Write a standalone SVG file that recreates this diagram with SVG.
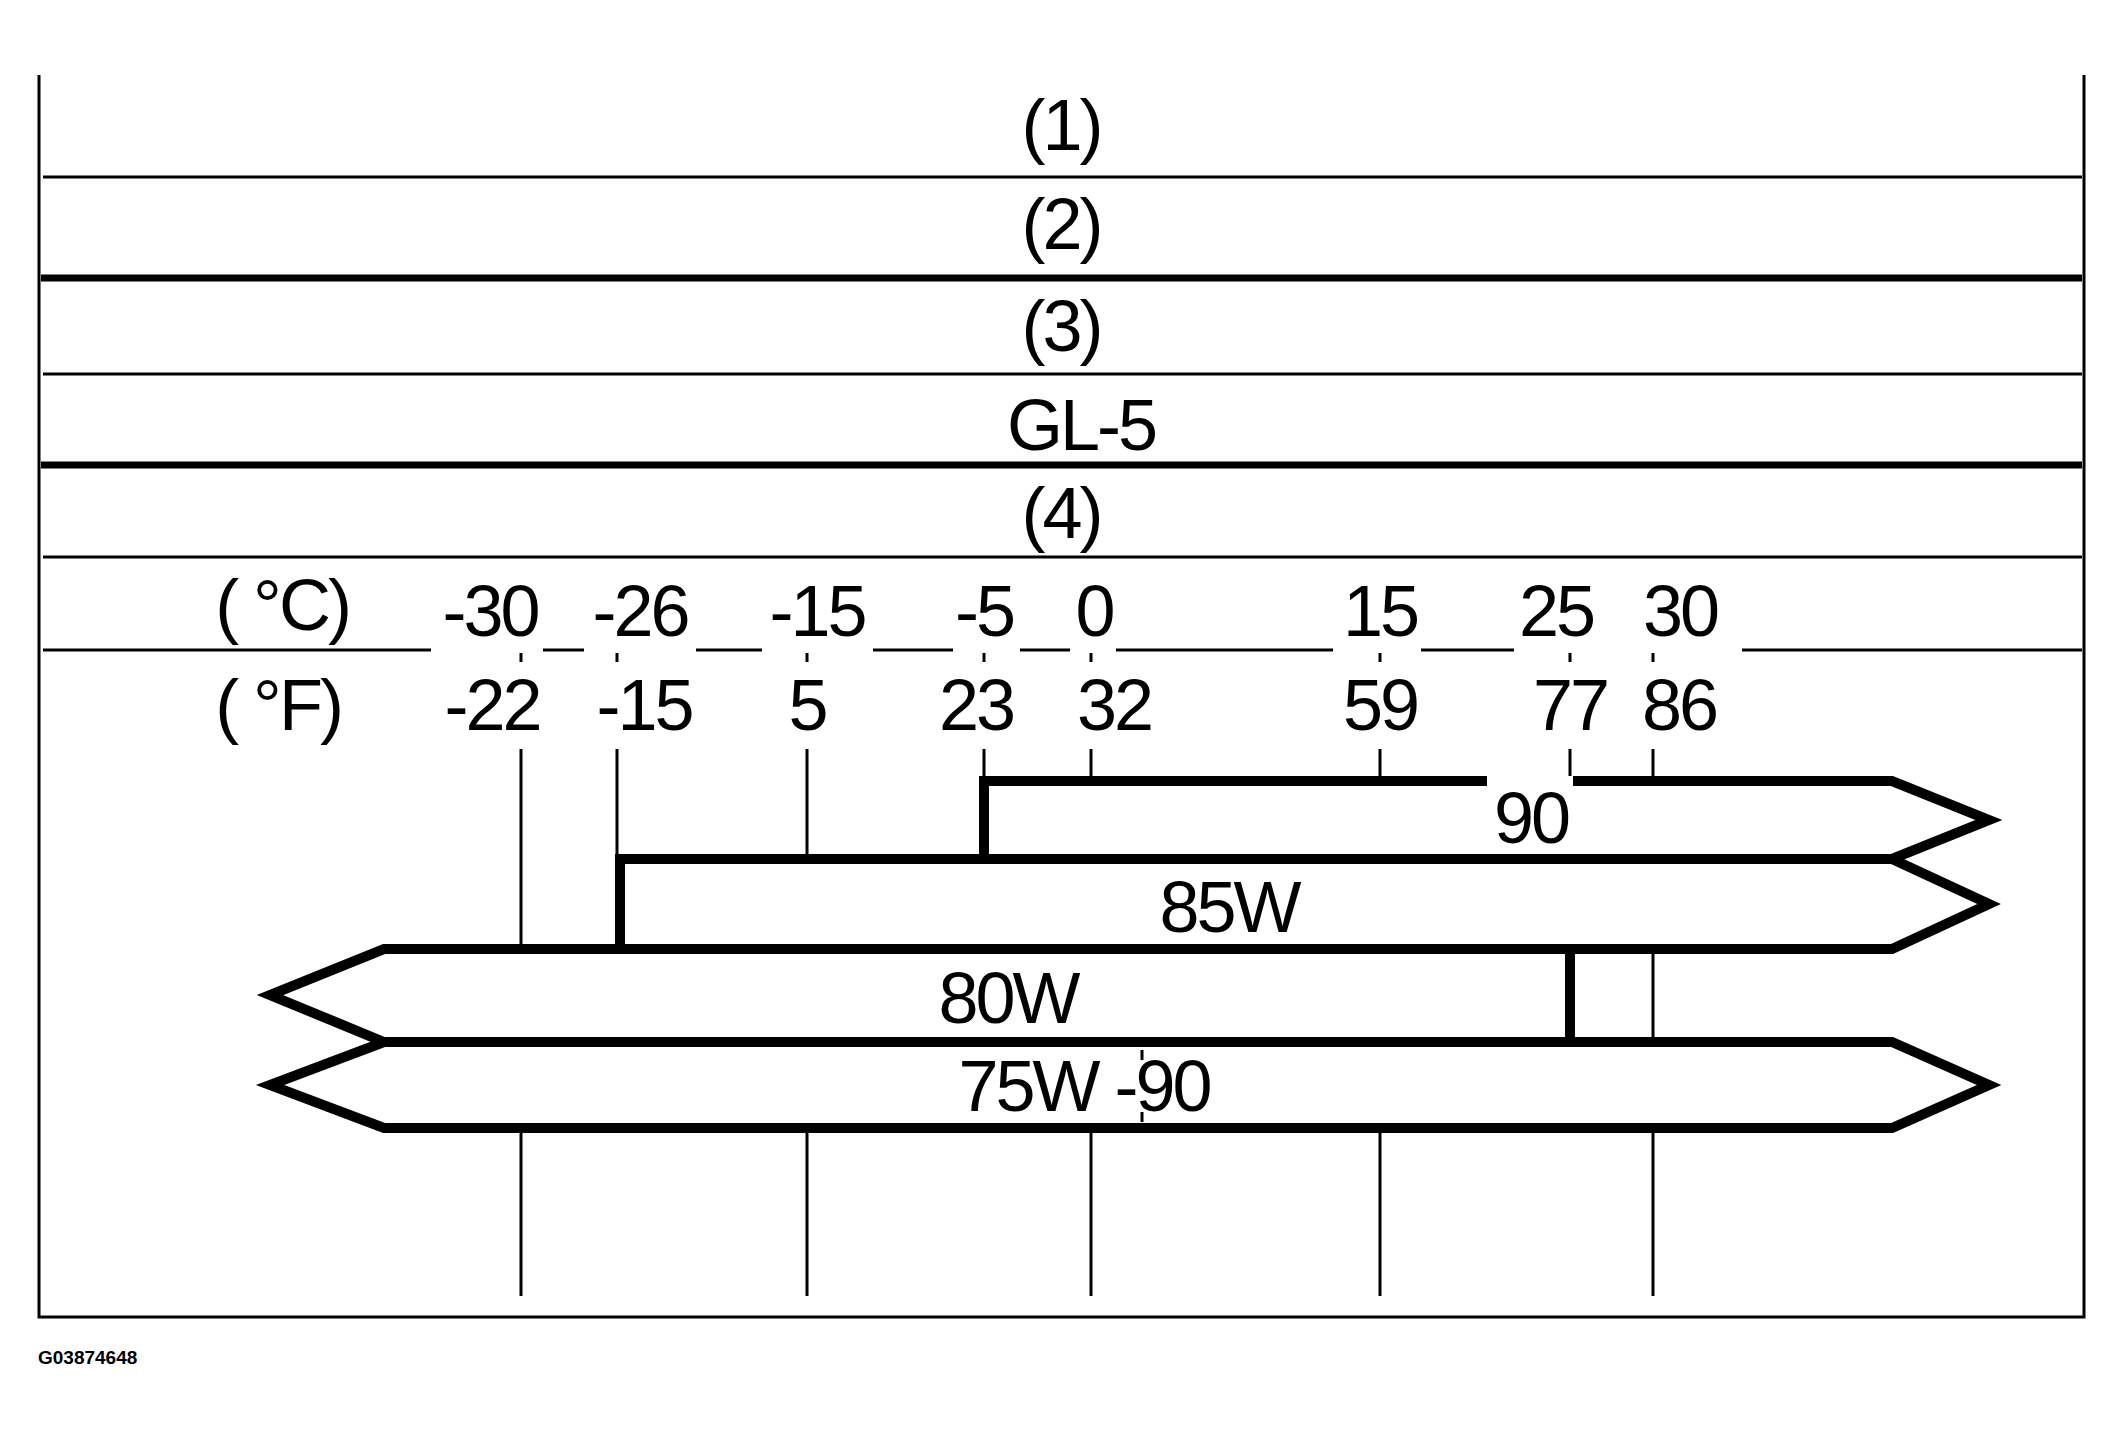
<svg xmlns="http://www.w3.org/2000/svg" width="2124" height="1441" viewBox="0 0 2124 1441">
<style>
.t{font-family:"Liberation Sans",Arial,sans-serif;font-size:72px;fill:#000;text-anchor:middle;letter-spacing:-3px}
.thin{stroke:#000;stroke-width:3;fill:none}
.thick{stroke:#000;stroke-width:7;fill:none}
.bar{stroke:#000;stroke-width:10;fill:#fff;stroke-linejoin:miter}
</style>
<rect width="2124" height="1441" fill="#fff"/>
<g id="frame">
<polyline class="thin" points="39,75 39,1317 2084,1317 2084,75"/>
<line class="thin" x1="43" y1="177" x2="2082" y2="177"/>
<line class="thick" x1="41" y1="278" x2="2082" y2="278"/>
<line class="thin" x1="43" y1="374" x2="2082" y2="374"/>
<line class="thick" x1="41" y1="465" x2="2082" y2="465"/>
<line class="thin" x1="43" y1="557" x2="2082" y2="557"/>
</g>
<g id="rows">
<text class="t" x="1061" y="150">(1)</text>
<text class="t" x="1061" y="249">(2)</text>
<text class="t" x="1061" y="351">(3)</text>
<text class="t" x="1081" y="450">GL-5</text>
<text class="t" x="1061" y="538">(4)</text>
</g>
<g id="scale">
<g class="thin" stroke-width="4">
<line x1="43" y1="650" x2="431" y2="650"/><line x1="543" y1="650" x2="584" y2="650"/>
<line x1="696" y1="650" x2="762" y2="650"/><line x1="873" y1="650" x2="953" y2="650"/>
<line x1="1020" y1="650" x2="1070" y2="650"/><line x1="1116" y1="650" x2="1333" y2="650"/>
<line x1="1421" y1="650" x2="1514" y2="650"/><line x1="1742" y1="650" x2="2082" y2="650"/>
<path d="M521 653v9M617 653v9M807 653v9M984 653v9M1091 653v9M1380 653v9M1570 653v9M1653 653v9"/>
</g>
<text class="t" x="282" y="630">( °C)</text>
<text class="t" x="278" y="730">( °F)</text>
<text class="t" x="490" y="636">-30</text><text class="t" x="640" y="636">-26</text>
<text class="t" x="817" y="636">-15</text><text class="t" x="984" y="636">-5</text>
<text class="t" x="1094" y="636">0</text><text class="t" x="1380" y="636">15</text>
<text class="t" x="1556" y="636">25</text><text class="t" x="1680" y="636">30</text>
<text class="t" x="492" y="730">-22</text><text class="t" x="644" y="730">-15</text>
<text class="t" x="807" y="730">5</text><text class="t" x="976" y="730">23</text>
<text class="t" x="1114" y="730">32</text><text class="t" x="1380" y="730">59</text>
<text class="t" x="1570" y="730">77</text><text class="t" x="1679" y="730">86</text>
</g>
<g id="connectors" class="thin">
<path d="M521 749V949M617 749V859M807 749V859M984 749V781M1091 749V781M1380 749V781M1570 749V781M1653 749V781"/>
<path d="M521 1128V1296M807 1128V1296M1091 1128V1296M1380 1128V1296M1653 1128V1296"/>
</g>
<g id="bar-90">
<polygon class="bar" points="984,781 1892,781 1989,820 1892,859 984,859"/>
<rect x="1487" y="776" width="86" height="82" fill="#fff"/>
<text class="t" x="1531" y="843">90</text>
</g>
<g id="bar-85W">
<polygon class="bar" points="620,859 1892,859 1989,904 1892,949 620,949"/>
<rect x="1152" y="865" width="158" height="88" fill="#fff"/>
<text class="t" x="1229" y="932">85W</text>
</g>
<g id="bar-80W">
<polygon class="bar" points="384,949 1570,949 1570,1042 384,1042 270,995"/>
<line class="thin" x1="1653" y1="949" x2="1653" y2="1042"/>
<rect x="946" y="955" width="157" height="80" fill="#fff"/>
<text class="t" x="1008" y="1023">80W</text>
</g>
<g id="bar-75W-90">
<polygon class="bar" points="384,1042 1892,1042 1989,1085 1892,1128 384,1128 270,1085"/>
<rect x="940" y="1047" width="286" height="76" fill="#fff"/>
<line class="thin" stroke-width="2" x1="1142" y1="1050" x2="1142" y2="1060"/>
<line class="thin" stroke-width="2" x1="1142" y1="1112" x2="1142" y2="1122"/>
<text class="t" x="1084" y="1111">75W -90</text>
</g>
<text x="38" y="1364" font-family="Liberation Sans,Arial,sans-serif" font-size="19" font-weight="bold">G03874648</text>
</svg>
